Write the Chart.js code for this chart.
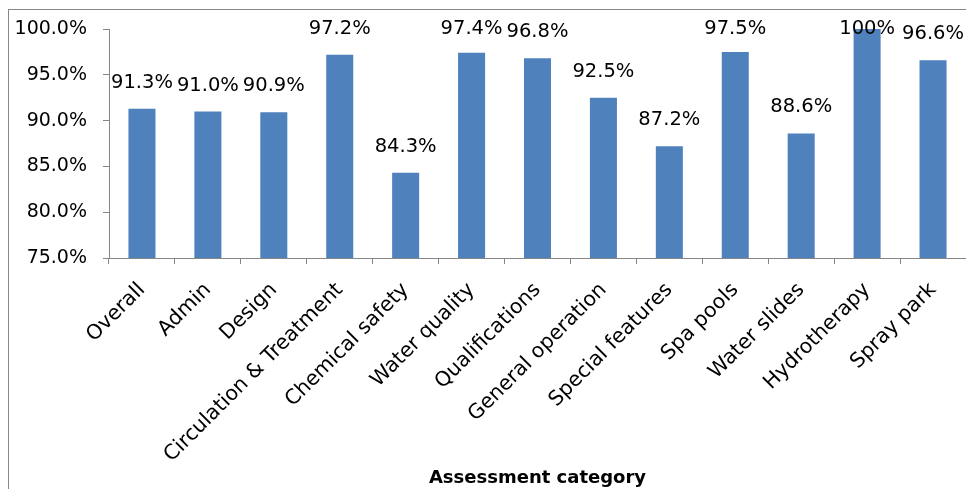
<!DOCTYPE html>
<html><head><meta charset="utf-8">
<script src="https://cdn.jsdelivr.net/npm/chart.js@4.4.1/dist/chart.umd.min.js"></script>
<style>html,body{margin:0;padding:0;background:#fff}#wrap{width:966px;height:489px;position:relative}</style>
</head><body><div id="wrap"><canvas id="c"></canvas></div>
<script>
const categories = ['Overall','Admin','Design','Circulation & Treatment','Chemical safety','Water quality','Qualifications','General operation','Special features','Spa pools','Water slides','Hydrotherapy','Spray park'];
const values = [91.3, 91.0, 90.9, 97.2, 84.3, 97.4, 96.8, 92.5, 87.2, 97.5, 88.6, 100, 96.6];
const yMin = 75, yMax = 100, yStep = 5;
const xTitle = 'Assessment category';

const FONT = '"DejaVu Sans", sans-serif';
const AXIS = '#868686';
function fmtLabel(v){ return v === 100 ? '100%' : v.toFixed(1) + '%'; }

const framePlugin = {
  id: 'frame',
  beforeDraw(chart){
    const ctx = chart.ctx;
    ctx.save();
    ctx.fillStyle = '#fff';
    ctx.fillRect(0,0,chart.width,chart.height);
    ctx.strokeStyle = '#878787';
    ctx.lineWidth = 1;
    ctx.strokeRect(8.5, 9.5, 3000, 3000);
    ctx.restore();
  }
};
const valueLabelPlugin = {
  id: 'valueLabels',
  afterDatasetsDraw(chart){
    const ctx = chart.ctx;
    const meta = chart.getDatasetMeta(0);
    ctx.save();
    ctx.font = '19.5px ' + FONT;
    ctx.fillStyle = '#000';
    ctx.textAlign = 'center';
    ctx.textBaseline = 'middle';
    meta.data.forEach((bar, i) => {
      let y = bar.y - 26;
      if (y < chart.chartArea.top) y = chart.chartArea.top;
      ctx.fillText(fmtLabel(values[i]), bar.x, y);
    });
    ctx.restore();
  }
};

new Chart(document.getElementById('c'), {
  type: 'bar',
  data: {
    labels: categories,
    datasets: [{
      data: values,
      backgroundColor: '#4F81BD',
      borderWidth: 0,
      categoryPercentage: 1,
      barPercentage: 0.41
    }]
  },
  options: {
    responsive: true,
    maintainAspectRatio: false,
    animation: false,
    layout: { padding: { top: 29, right: 0, bottom: 0, left: 0 } },
    plugins: { legend: { display: false }, tooltip: { enabled: false } },
    scales: {
      y: {
        min: yMin, max: yMax,
        afterFit(scale){ scale.width = 109; },
        ticks: { stepSize: yStep, color: '#000', font: { family: FONT, size: 19 }, padding: 16,
          callback: v => v.toFixed(1) + '%' },
        grid: { drawOnChartArea: false, drawTicks: true, tickLength: 6, tickColor: AXIS, color: AXIS },
        border: { color: AXIS, width: 1 }
      },
      x: {
        afterFit(scale){ scale.height = 231; },
        ticks: { color: '#000', font: { family: FONT, size: 20.5 }, minRotation: 45, maxRotation: 45, autoSkip: false, padding: 14 },
        grid: { offset: true, drawOnChartArea: false, drawTicks: true, tickLength: 6, tickColor: AXIS, color: AXIS },
        border: { color: AXIS, width: 1 },
        title: { display: true, text: xTitle, color: '#000', font: { family: FONT, size: 18, weight: 'bold' }, padding: { top: 0, bottom: 0 } }
      }
    }
  },
  plugins: [framePlugin, valueLabelPlugin]
});
</script>
</body></html>
